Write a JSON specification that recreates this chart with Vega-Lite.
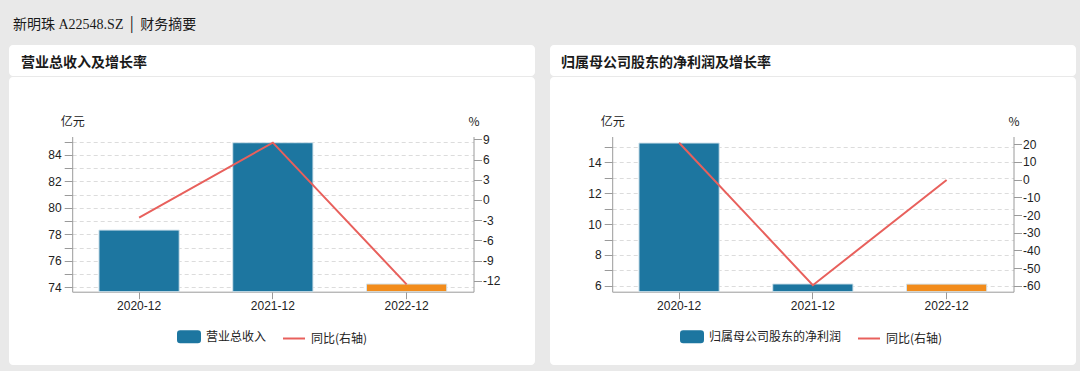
{
  "$schema": "https://vega.github.io/schema/vega-lite/v6.json",
  "background": "#e9e9e9",
  "padding": {"left": 9, "top": 18, "right": 4, "bottom": 6},
  "title": {
    "text": "新明珠 A22548.SZ │ 财务摘要",
    "anchor": "start",
    "frame": "group",
    "dx": 4,
    "offset": 13,
    "font": "Liberation Serif, Noto Sans CJK SC",
    "fontSize": 14,
    "fontWeight": "normal",
    "color": "#1a1a1a"
  },
  "datasets": {
    "revenue": [
      {"报告期": "2020-12", "数值": 78.32, "同比": -2.6, "系列": "营业总收入"},
      {"报告期": "2021-12", "数值": 84.91, "同比": 8.5, "系列": "营业总收入"},
      {"报告期": "2022-12", "数值": 74.25, "同比": -12.5, "系列": "营业总收入(最新)"}
    ],
    "profit": [
      {"报告期": "2020-12", "数值": 15.23, "同比": 20.9, "系列": "归属母公司股东的净利润"},
      {"报告期": "2021-12", "数值": 6.13, "同比": -59.7, "系列": "归属母公司股东的净利润"},
      {"报告期": "2022-12", "数值": 6.12, "同比": -0.2, "系列": "归属母公司股东的净利润(最新)"}
    ]
  },
  "config": {
    "view": {"stroke": null},
    "axis": {
      "domainColor": "#9a9a9a",
      "tickColor": "#9a9a9a",
      "labelColor": "#222222",
      "labelFont": "Liberation Sans",
      "labelFontSize": 12,
      "titleColor": "#222222",
      "titleFont": "Noto Sans CJK SC",
      "titleFontSize": 12,
      "titleFontWeight": "normal",
      "labelOverlap": false,
      "gridColor": "#dcdcdc",
      "gridDash": [4, 3]
    },
    "legend": {
      "labelFont": "Noto Sans CJK SC",
      "labelFontSize": 12,
      "labelColor": "#222222"
    }
  },
  "spacing": 15,
  "resolve": {"scale": {"color": "independent"}, "legend": {"color": "independent"}},
  "hconcat": [
    {
      "spacing": 1,
      "resolve": {"scale": {"color": "independent"}, "legend": {"color": "independent"}},
      "vconcat": [
        {
          "width": 526,
          "height": 31,
          "view": {"fill": "white", "stroke": null, "cornerRadius": 4},
          "data": {"values": []},
          "mark": "text",
          "title": {
            "text": "营业总收入及增长率",
            "anchor": "start",
            "frame": "group",
            "orient": "top",
            "offset": -25,
            "dx": 12,
            "font": "Noto Sans CJK SC",
            "fontSize": 14,
            "fontWeight": "bold",
            "color": "#1a1a1a"
          }
        },
        {
          "width": 526,
          "height": 288,
          "view": {"fill": "white", "stroke": null, "cornerRadius": 4},
          "data": {"name": "revenue"},
          "encoding": {
            "x": {
              "field": "报告期",
              "type": "ordinal",
              "scale": {"range": [63.2, 464.5], "paddingInner": 0.4, "paddingOuter": 0.2},
              "axis": {
                "orient": "bottom",
                "offset": -73.3,
                "title": null,
                "labelAngle": 0,
                "tickSize": 7,
                "labelPadding": 2,
                "grid": false
              }
            }
          },
          "layer": [
            {
              "mark": {"type": "bar", "stroke": "#d3e3ec", "strokeWidth": 1},
              "encoding": {
                "y": {
                  "field": "数值",
                  "type": "quantitative",
                  "scale": {"domain": [73.67, 85.38], "range": [214.7, 59.5], "zero": false, "nice": false},
                  "axis": {
                    "orient": "left",
                    "offset": -63.2,
                    "values": [74, 75, 76, 77, 78, 79, 80, 81, 82, 83, 84, 85],
                    "labelExpr": "datum.value % 2 === 0 ? '' + datum.value : ''",
                    "grid": true,
                    "tickSize": 8,
                    "labelPadding": 3,
                    "title": "亿元",
                    "titleAngle": 0,
                    "titleX": 0,
                    "titleY": 44.7,
                    "titleAlign": "center",
                    "titleBaseline": "middle"
                  }
                },
                "y2": {"datum": 73.67},
                "color": {
                  "field": "系列",
                  "type": "nominal",
                  "scale": {
                    "domain": ["营业总收入", "同比(右轴)", "营业总收入(最新)"],
                    "range": ["#1d76a0", "#e8605c", "#f28c1c"]
                  },
                  "legend": {
                    "orient": "none",
                    "legendX": 168,
                    "legendY": 247.5,
                    "direction": "horizontal",
                    "title": null,
                    "values": ["营业总收入", "同比(右轴)"],
                    "symbolSize": 484,
                    "labelOffset": 5,
                    "columnPadding": 12,
                    "encode": {
                      "symbols": {
                        "update": {
                          "shape": {"signal": "datum.value === '同比(右轴)' ? 'stroke' : 'M-0.8,-0.5H0.8A0.2,0.2 0 0 1 1,-0.3V0.3A0.2,0.2 0 0 1 0.8,0.5H-0.8A0.2,0.2 0 0 1 -1,0.3V-0.3A0.2,0.2 0 0 1 -0.8,-0.5Z'"},
                          "fill": {"signal": "datum.value === '同比(右轴)' ? 'transparent' : '#1d76a0'"},
                          "stroke": {"signal": "datum.value === '同比(右轴)' ? '#e8605c' : 'transparent'"},
                          "strokeWidth": {"value": 2},
                          "opacity": {"value": 1}
                        }
                      }
                    }
                  }
                }
              }
            },
            {
              "mark": {"type": "line", "strokeWidth": 2},
              "encoding": {
                "y": {
                  "field": "同比",
                  "type": "quantitative",
                  "scale": {"domain": [-13.59, 9.41], "range": [214.7, 59.5], "zero": false, "nice": false},
                  "axis": {
                    "orient": "right",
                    "offset": -61.5,
                    "values": [-12, -9, -6, -3, 0, 3, 6, 9],
                    "labelExpr": "'' + datum.value",
                    "grid": false,
                    "tickSize": 8,
                    "labelPadding": 1,
                    "title": "%",
                    "titleAngle": 0,
                    "titleX": 0,
                    "titleY": 44.7,
                    "titleAlign": "center",
                    "titleBaseline": "middle"
                  }
                },
                "color": {
                  "datum": "同比(右轴)",
                  "legend": {
                    "orient": "none",
                    "legendX": 168,
                    "legendY": 247.5,
                    "direction": "horizontal",
                    "title": null,
                    "values": ["营业总收入", "同比(右轴)"],
                    "symbolSize": 484,
                    "labelOffset": 5,
                    "columnPadding": 12,
                    "encode": {
                      "symbols": {
                        "update": {
                          "shape": {"signal": "datum.value === '同比(右轴)' ? 'stroke' : 'M-0.8,-0.5H0.8A0.2,0.2 0 0 1 1,-0.3V0.3A0.2,0.2 0 0 1 0.8,0.5H-0.8A0.2,0.2 0 0 1 -1,0.3V-0.3A0.2,0.2 0 0 1 -0.8,-0.5Z'"},
                          "fill": {"signal": "datum.value === '同比(右轴)' ? 'transparent' : '#1d76a0'"},
                          "stroke": {"signal": "datum.value === '同比(右轴)' ? '#e8605c' : 'transparent'"},
                          "strokeWidth": {"value": 2},
                          "opacity": {"value": 1}
                        }
                      }
                    }
                  }
                }
              }
            }
          ],
          "resolve": {"scale": {"y": "independent"}}
        }
      ]
    },
    {
      "spacing": 1,
      "resolve": {"scale": {"color": "independent"}, "legend": {"color": "independent"}},
      "vconcat": [
        {
          "width": 526,
          "height": 31,
          "view": {"fill": "white", "stroke": null, "cornerRadius": 4},
          "data": {"values": []},
          "mark": "text",
          "title": {
            "text": "归属母公司股东的净利润及增长率",
            "anchor": "start",
            "frame": "group",
            "orient": "top",
            "offset": -25,
            "dx": 11,
            "font": "Noto Sans CJK SC",
            "fontSize": 14,
            "fontWeight": "bold",
            "color": "#1a1a1a"
          }
        },
        {
          "width": 526,
          "height": 288,
          "view": {"fill": "white", "stroke": null, "cornerRadius": 4},
          "data": {"name": "profit"},
          "encoding": {
            "x": {
              "field": "报告期",
              "type": "ordinal",
              "scale": {"range": [62.2, 463.5], "paddingInner": 0.4, "paddingOuter": 0.2},
              "axis": {
                "orient": "bottom",
                "offset": -73.3,
                "title": null,
                "labelAngle": 0,
                "tickSize": 7,
                "labelPadding": 2,
                "grid": false
              }
            }
          },
          "layer": [
            {
              "mark": {"type": "bar", "stroke": "#d3e3ec", "strokeWidth": 1},
              "encoding": {
                "y": {
                  "field": "数值",
                  "type": "quantitative",
                  "scale": {"domain": [5.63, 15.65], "range": [214.7, 59.5], "zero": false, "nice": false},
                  "axis": {
                    "orient": "left",
                    "offset": -62.2,
                    "values": [6, 7, 8, 9, 10, 11, 12, 13, 14, 15],
                    "labelExpr": "datum.value % 2 === 0 ? '' + datum.value : ''",
                    "grid": true,
                    "tickSize": 8,
                    "labelPadding": 3,
                    "title": "亿元",
                    "titleAngle": 0,
                    "titleX": 0,
                    "titleY": 44.7,
                    "titleAlign": "center",
                    "titleBaseline": "middle"
                  }
                },
                "y2": {"datum": 5.63},
                "color": {
                  "field": "系列",
                  "type": "nominal",
                  "scale": {
                    "domain": ["归属母公司股东的净利润", "同比(右轴)", "归属母公司股东的净利润(最新)"],
                    "range": ["#1d76a0", "#e8605c", "#f28c1c"]
                  },
                  "legend": {
                    "orient": "none",
                    "legendX": 130,
                    "legendY": 247.5,
                    "direction": "horizontal",
                    "title": null,
                    "values": ["归属母公司股东的净利润", "同比(右轴)"],
                    "symbolSize": 484,
                    "labelOffset": 5,
                    "columnPadding": 12,
                    "encode": {
                      "symbols": {
                        "update": {
                          "shape": {"signal": "datum.value === '同比(右轴)' ? 'stroke' : 'M-0.8,-0.5H0.8A0.2,0.2 0 0 1 1,-0.3V0.3A0.2,0.2 0 0 1 0.8,0.5H-0.8A0.2,0.2 0 0 1 -1,0.3V-0.3A0.2,0.2 0 0 1 -0.8,-0.5Z'"},
                          "fill": {"signal": "datum.value === '同比(右轴)' ? 'transparent' : '#1d76a0'"},
                          "stroke": {"signal": "datum.value === '同比(右轴)' ? '#e8605c' : 'transparent'"},
                          "strokeWidth": {"value": 2},
                          "opacity": {"value": 1}
                        }
                      }
                    }
                  }
                }
              }
            },
            {
              "mark": {"type": "line", "strokeWidth": 2},
              "encoding": {
                "y": {
                  "field": "同比",
                  "type": "quantitative",
                  "scale": {"domain": [-63.39, 24.41], "range": [214.7, 59.5], "zero": false, "nice": false},
                  "axis": {
                    "orient": "right",
                    "offset": -62.5,
                    "values": [-60, -50, -40, -30, -20, -10, 0, 10, 20],
                    "labelExpr": "'' + datum.value",
                    "grid": false,
                    "tickSize": 8,
                    "labelPadding": 1,
                    "title": "%",
                    "titleAngle": 0,
                    "titleX": 0,
                    "titleY": 44.7,
                    "titleAlign": "center",
                    "titleBaseline": "middle"
                  }
                },
                "color": {
                  "datum": "同比(右轴)",
                  "legend": {
                    "orient": "none",
                    "legendX": 130,
                    "legendY": 247.5,
                    "direction": "horizontal",
                    "title": null,
                    "values": ["归属母公司股东的净利润", "同比(右轴)"],
                    "symbolSize": 484,
                    "labelOffset": 5,
                    "columnPadding": 12,
                    "encode": {
                      "symbols": {
                        "update": {
                          "shape": {"signal": "datum.value === '同比(右轴)' ? 'stroke' : 'M-0.8,-0.5H0.8A0.2,0.2 0 0 1 1,-0.3V0.3A0.2,0.2 0 0 1 0.8,0.5H-0.8A0.2,0.2 0 0 1 -1,0.3V-0.3A0.2,0.2 0 0 1 -0.8,-0.5Z'"},
                          "fill": {"signal": "datum.value === '同比(右轴)' ? 'transparent' : '#1d76a0'"},
                          "stroke": {"signal": "datum.value === '同比(右轴)' ? '#e8605c' : 'transparent'"},
                          "strokeWidth": {"value": 2},
                          "opacity": {"value": 1}
                        }
                      }
                    }
                  }
                }
              }
            }
          ],
          "resolve": {"scale": {"y": "independent"}}
        }
      ]
    }
  ]
}
